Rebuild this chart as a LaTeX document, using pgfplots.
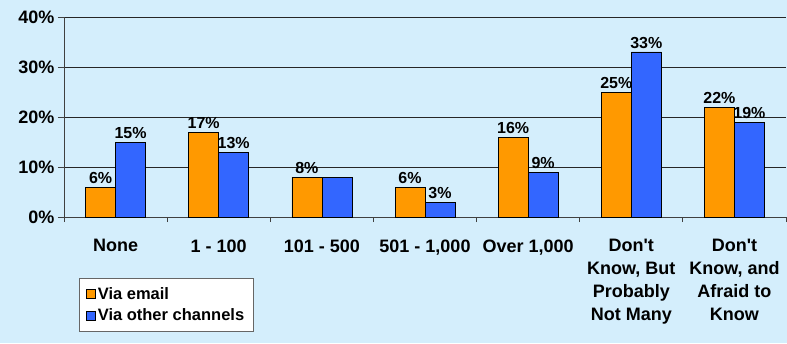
\documentclass[border=0pt]{standalone}
\usepackage{pgfplots}
\pgfplotsset{compat=1.18}
\usepackage{fontspec}
\setmainfont{Liberation Sans}
\definecolor{bg}{HTML}{D4EEFC}
\definecolor{orng}{HTML}{FF9900}
\definecolor{blu}{HTML}{3366FF}
\begin{document}
\begin{tikzpicture}
\fill[bg] (-64pt,-126pt) rectangle (723pt,217pt);
\useasboundingbox (-64pt,-126pt) rectangle (723pt,217pt);
\begin{axis}[at={(0pt,0pt)}, anchor=south west, scale only axis,
  width=722pt, height=200pt,
  xmin=-0.5, xmax=6.5, ymin=0, ymax=40,
  axis x line*=bottom, axis y line*=left,
  axis line style={black!75, line width=0.8pt, -},
  ybar, bar width=30pt,
  ytick={0,10,20,30,40},
  yticklabels={0\%,10\%,20\%,30\%,40\%},
  ymajorgrids, grid style={black!85, line width=0.7pt},
  xtick={0,...,6},
  xticklabels={None, 1 - 100, 101 - 500, {501 - 1,000}, {Over 1,000},
    {Don\textquotesingle t\\Know, But\\Probably\\Not Many}, {Don\textquotesingle t\\Know, and\\Afraid to\\Know}},
  major x tick style={draw=none},
  minor xtick={-0.5,0.5,...,6.5},
  minor x tick style={black!75, line width=0.8pt},
  tick align=outside,
  major tick length=6pt, minor tick length=5pt,
  y tick style={black!75, line width=0.8pt},
  tick label style={font=\bfseries\fontsize{18}{23}\selectfont},
  xticklabel style={align=center, yshift=-13pt},
  /pgf/number format/assume math mode=true,
  nodes near coords={\pgfmathprintnumber{\pgfplotspointmeta}\%},
  nodes near coords style={font=\bfseries\fontsize{16}{19}\selectfont, black},
  legend style={at={(0,0)}, anchor=north west, xshift=15pt, yshift=-61pt,
    draw=black!60, fill=white,
    nodes={font=\bfseries\fontsize{16.5}{19}\selectfont},
    row sep=4pt, inner xsep=7pt, inner ysep=7pt},
  legend cell align=left,
  legend image code/.code={\draw[#1, draw=black, line width=0.6pt] (0pt,-4.5pt) rectangle (9pt,4.5pt);},
]
\addplot[fill=orng, draw=black, line width=0.7pt, bar shift=-15pt]
  coordinates {(0,6) (1,17) (2,8) (3,6) (4,16) (5,25) (6,22)};
\addlegendentry{\textbf{Via email}}
\addplot[fill=blu, draw=black, line width=0.7pt, bar shift=15pt]
  coordinates {(0,15) (1,13) (3,3) (4,9) (5,33) (6,19)};
\addlegendentry{\textbf{Via other channels}\hspace{18pt}}
\addplot[fill=blu, draw=black, line width=0.7pt, bar shift=15pt, nodes near coords={}, forget plot]
  coordinates {(2,8)};
\end{axis}
\end{tikzpicture}
\end{document}
